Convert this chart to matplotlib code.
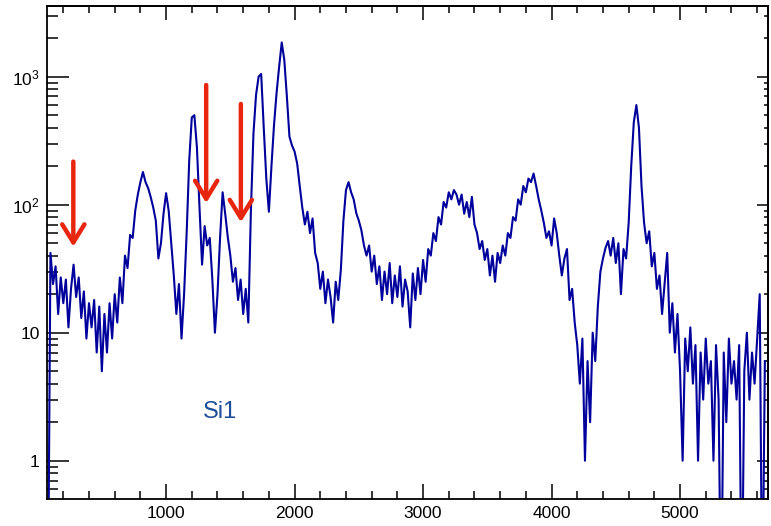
import numpy as np
import matplotlib
matplotlib.use("Agg")
import matplotlib.pyplot as plt
from matplotlib.ticker import FixedLocator, LogLocator, MultipleLocator, NullFormatter

plt.rcParams['font.family'] = ['Liberation Sans', 'DejaVu Sans']
plt.rcParams['mathtext.fontset'] = 'custom'
plt.rcParams['mathtext.rm'] = 'Liberation Sans'

# channel grid (20-channel bins, starting at 80)
channel = np.arange(80, 5680, 20)

# counts, 10 bins per row
counts_low = [
    0, 42, 24, 33, 14, 27, 17, 26, 11, 22,
    34, 19, 27, 13, 21, 9, 17, 11, 18, 7,
    16, 5, 14, 7, 17, 9, 20, 12, 27, 17,
    40, 32, 58, 55, 90, 120, 150, 180, 150, 135,
    115, 95, 75, 38, 50, 85, 123, 90, 50, 28,
    14, 24, 9, 20, 60, 220, 480, 500, 280, 95,
    34, 68, 48, 55, 26, 10, 20, 55, 125, 85,
    56, 40, 25, 32, 18, 26, 14, 22, 12, 90,
    360, 720, 1000, 1050, 400, 160, 88, 200, 420, 750,
    1200, 1850, 1350, 700, 340, 290, 260, 210, 140, 95,
]
counts_mid = [
    70, 88, 60, 78, 42, 35, 22, 30, 17, 26,
    19, 12, 25, 18, 31, 75, 130, 150, 125, 110,
    86, 75, 63, 48, 40, 48, 30, 40, 24, 33,
    18, 30, 20, 35, 17, 28, 19, 33, 16, 26,
    21, 11, 29, 18, 32, 20, 37, 25, 45, 40,
    60, 52, 80, 70, 105, 95, 125, 110, 130, 120,
    100, 120, 85, 105, 80, 115, 70, 60, 45, 52,
    37, 45, 28, 40, 25, 42, 35, 48, 40, 60,
    55, 80, 75, 110, 100, 140, 125, 160, 150, 175,
    140, 110, 90, 72, 55, 62, 48, 78, 60, 40,
]
counts_high = [
    28, 38, 45, 18, 22, 12, 8, 4, 9, 1,
    6, 2, 10, 6, 16, 30, 38, 46, 52, 40,
    55, 35, 50, 20, 45, 38, 72, 200, 440, 600,
    400, 140, 72, 50, 62, 33, 42, 22, 28, 14,
    24, 42, 10, 17, 7, 14, 5, 1, 9, 5,
    11, 4, 8, 1, 7, 3, 9, 4, 6, 1,
    8, 3, 0, 7, 2, 9, 4, 6, 3, 8,
    0, 5, 10, 3, 7, 4, 9, 20, 0, 6,
]
counts = np.array(counts_low + counts_mid + counts_high, dtype=float)

# arrows: (channel, top, tip)
arrow_x = [278, 1312, 1582]
arrow_top = [217, 861, 612]
arrow_tip = [47, 103, 73]

fig = plt.figure(figsize=(7.71, 5.26), dpi=100)
ax = fig.add_axes([0.0606, 0.0513, 0.9356, 0.9373])

# empty bins drop below the axis like in ROOT
yplot = np.where(counts > 0, counts, 0.05)
ax.plot(channel, yplot, color='#00009c', lw=1.5)

ax.set_yscale('log')
ax.set_xlim(71, 5685)
ax.set_ylim(0.502, 3565)

for x, y0, y1 in zip(arrow_x, arrow_top, arrow_tip):
    ax.annotate('', xy=(x, y1), xytext=(x, y0),
                arrowprops=dict(arrowstyle='->,head_length=13,head_width=8',
                                lw=3.2, color='#e8260f', shrinkA=0, shrinkB=0,
                                mutation_scale=1))

ax.text(1288, 2.16, 'Si1', color='#1f4e9a', fontsize=17, ha='left', va='baseline')

# ticks
ax.xaxis.set_major_locator(FixedLocator([1000, 2000, 3000, 4000, 5000]))
ax.xaxis.set_minor_locator(MultipleLocator(200))
ax.yaxis.set_major_locator(FixedLocator([1, 10, 100, 1000]))
ax.yaxis.set_minor_locator(LogLocator(base=10, subs=np.arange(2, 10), numticks=20))
ax.yaxis.set_minor_formatter(NullFormatter())
ax.set_yticklabels(['1', '10', r'$\mathregular{10^2}$', r'$\mathregular{10^3}$'])
ax.tick_params(axis='x', which='major', direction='in', length=10.8, width=1.1,
               labelsize=12.5, pad=5)
ax.tick_params(axis='x', which='minor', direction='in', length=5.8, width=1.1)
ax.tick_params(axis='y', which='major', direction='in', length=15.8, width=1.1,
               labelsize=12.5, pad=5)
ax.tick_params(axis='y', which='minor', direction='in', length=7.9, width=1.1)

top = ax.secondary_xaxis('top')
top.xaxis.set_major_locator(FixedLocator([1000, 2000, 3000, 4000, 5000]))
top.xaxis.set_minor_locator(MultipleLocator(200))
top.tick_params(which='major', direction='in', length=10, width=1.1, labeltop=False)
top.tick_params(which='minor', direction='in', length=5, width=1.1)

right = ax.secondary_yaxis('right')
right.yaxis.set_major_locator(FixedLocator([1, 10, 100, 1000]))
right.yaxis.set_minor_locator(LogLocator(base=10, subs=np.arange(2, 10), numticks=20))
right.yaxis.set_minor_formatter(NullFormatter())
right.tick_params(which='major', direction='in', length=8, width=1.1, labelright=False)
right.tick_params(which='minor', direction='in', length=3, width=1.1)

for a in (ax, top, right):
    for s in a.spines.values():
        s.set_linewidth(1.3)

fig.savefig('out.png', dpi=100)
